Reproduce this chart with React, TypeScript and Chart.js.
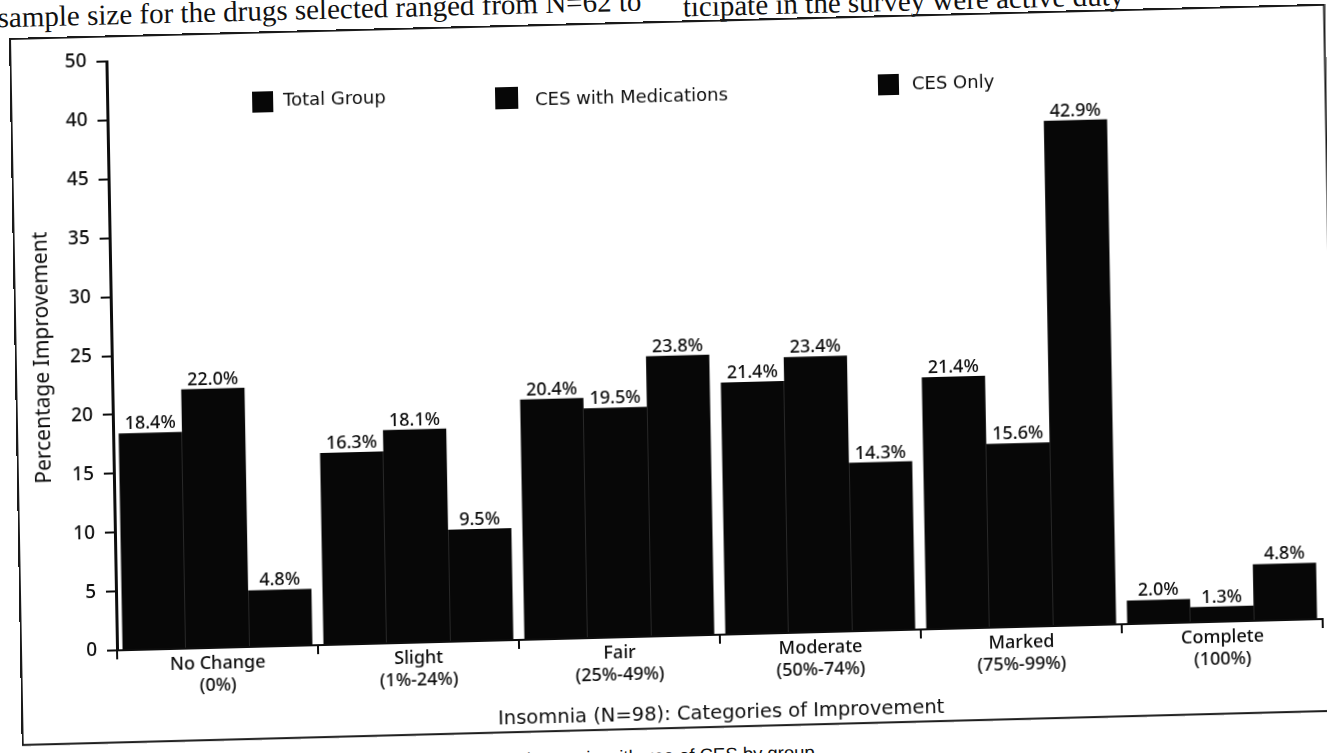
import React, { useEffect, useRef } from 'react';
import { Chart, registerables } from 'chart.js';

Chart.register(...registerables);

// Improvement categories (two-line axis labels)
const CATEGORIES: string[][] = [
  ['No Change', '(0%)'],
  ['Slight', '(1%-24%)'],
  ['Fair', '(25%-49%)'],
  ['Moderate', '(50%-74%)'],
  ['Marked', '(75%-99%)'],
  ['Complete', '(100%)'],
];

const SERIES_NAMES = ['Total Group', 'CES with Medications', 'CES Only'];

// Percentage of respondents in each improvement category
const TOTAL_GROUP = [18.4, 16.3, 20.4, 21.4, 21.4, 2.0];
const CES_WITH_MEDICATIONS = [22.0, 18.1, 19.5, 23.4, 15.6, 1.3];
const CES_ONLY = [4.8, 9.5, 23.8, 14.3, 42.9, 4.8];

// Y-axis tick labels, bottom to top, as printed on the figure
const Y_TICK_LABELS = ['0', '5', '10', '15', '20', '25', '30', '35', '45', '40', '50'];

const X_TITLE = 'Insomnia (N=98): Categories of Improvement';
const Y_TITLE = 'Percentage Improvement';

const BAR_COLOR = '#070707';
const INK = '#0d0d0d';

// Legend drawn at fixed spots inside the plot frame
const placedLegend = {
  id: 'placedLegend',
  afterDraw(chart: any, _args: any, opts: any) {
    const { ctx } = chart;
    ctx.save();
    ctx.font = opts.font;
    ctx.textAlign = 'left';
    ctx.textBaseline = 'middle';
    chart.data.datasets.forEach((ds: any, i: number) => {
      const it = opts.items[i];
      if (!it) return;
      ctx.fillStyle = ds.backgroundColor;
      ctx.fillRect(it.x, it.y, it.w, it.h);
      ctx.fillStyle = opts.color;
      ctx.fillText(ds.label, it.textX, it.textY);
    });
    ctx.restore();
  },
};

// Percentage printed above every bar
const valueLabels = {
  id: 'valueLabels',
  afterDatasetsDraw(chart: any, _args: any, opts: any) {
    const { ctx } = chart;
    ctx.save();
    ctx.font = opts.font;
    ctx.fillStyle = opts.color;
    ctx.textAlign = 'center';
    ctx.textBaseline = 'alphabetic';
    chart.data.datasets.forEach((ds: any, di: number) => {
      const meta = chart.getDatasetMeta(di);
      meta.data.forEach((bar: any, i: number) => {
        const v = ds.data[i] as number;
        ctx.fillText(v.toFixed(1) + '%', bar.x, bar.y - 4);
      });
    });
    ctx.restore();
  },
};

const FRAME_W = 1316;
const FRAME_H = 708;

function ImprovementChart() {
  const ref = useRef<HTMLCanvasElement | null>(null);

  useEffect(() => {
    if (!ref.current) return;
    const chart = new Chart(ref.current, {
      type: 'bar',
      data: {
        labels: CATEGORIES,
        datasets: [
          { label: SERIES_NAMES[0], data: TOTAL_GROUP, backgroundColor: BAR_COLOR },
          { label: SERIES_NAMES[1], data: CES_WITH_MEDICATIONS, backgroundColor: BAR_COLOR },
          { label: SERIES_NAMES[2], data: CES_ONLY, backgroundColor: BAR_COLOR },
        ],
      },
      plugins: [placedLegend, valueLabels],
      options: {
        animation: false,
        responsive: false,
        maintainAspectRatio: false,
        datasets: {
          bar: { categoryPercentage: 0.945, barPercentage: 1.0 },
        },
        layout: { padding: { top: 26, right: 13, bottom: 0, left: 0 } },
        plugins: {
          legend: { display: false },
          tooltip: { enabled: false },
          placedLegend: {
            font: '18px "DejaVu Sans"',
            color: INK,
            items: [
              { x: 242, y: 60, w: 21, h: 21, textX: 273, textY: 70 },
              { x: 485, y: 62, w: 23, h: 22, textX: 525, textY: 76 },
              { x: 868, y: 59, w: 21, h: 21, textX: 902, textY: 70 },
            ],
          },
          valueLabels: { font: '500 18px "Noto Sans"', color: INK },
        } as any,
        scales: {
          x: {
            grid: {
              display: true,
              drawOnChartArea: false,
              drawTicks: true,
              tickLength: 9,
              color: INK,
              lineWidth: 2,
              offset: true,
            },
            border: { display: true, color: INK, width: 2 },
            ticks: {
              color: INK,
              font: { family: 'Noto Sans', size: 18, weight: '500', lineHeight: 1.2 },
              padding: -4,
              maxRotation: 0,
              autoSkip: false,
            },
            title: {
              display: true,
              text: X_TITLE,
              color: INK,
              font: { family: 'DejaVu Sans', size: 19.5, lineHeight: 1.2 },
              padding: { top: 0, bottom: 2 },
            },
            afterFit: (s: any) => {
              s.height = 93;
            },
          },
          y: {
            min: 0,
            max: 50,
            grid: {
              display: true,
              drawOnChartArea: false,
              drawTicks: true,
              tickLength: 10,
              color: INK,
              lineWidth: 2,
            },
            border: { display: true, color: INK, width: 3 },
            ticks: {
              stepSize: 5,
              padding: 10,
              color: INK,
              font: { family: 'Noto Sans', size: 19, weight: '500' },
              callback: (_v: any, i: number) => Y_TICK_LABELS[i],
            },
            title: {
              display: true,
              text: Y_TITLE,
              color: INK,
              font: { family: 'Noto Sans', size: 21, lineHeight: 1.2 },
              padding: { top: 15, bottom: 0 },
            },
            afterFit: (s: any) => {
              s.width = 97;
            },
          },
        },
      } as any,
    });
    return () => chart.destroy();
  }, []);

  return (
    <canvas
      ref={ref}
      width={FRAME_W}
      height={FRAME_H}
      style={{ position: 'absolute', left: 0, top: 0, display: 'block' }}
    />
  );
}

export default function App() {
  const serif = '"Liberation Serif", "Times New Roman", serif';
  return (
    <div
      style={{
        position: 'fixed',
        left: 0,
        top: 0,
        width: 1327,
        height: 753,
        overflow: 'hidden',
        background: '#ffffff',
      }}
    >
      <div
        style={{
          position: 'absolute',
          left: 9,
          top: 38,
          width: FRAME_W,
          height: FRAME_H,
          transformOrigin: '0 0',
          transform: 'matrix(1, -0.026, 0.018, 1, 0, 0)',
        }}
      >
        {/* running body text above the figure */}
        <div
          style={{
            position: 'absolute',
            left: -11,
            top: -35,
            font: `29px/29px ${serif}`,
            color: '#111',
            whiteSpace: 'nowrap',
          }}
        >
          sample size for the drugs selected ranged from N=62 to
        </div>
        <div
          style={{
            position: 'absolute',
            left: 674,
            top: -28,
            font: `29px/29px ${serif}`,
            color: '#111',
            whiteSpace: 'nowrap',
          }}
        >
          ticipate in the survey were active duty
        </div>

        <ImprovementChart />

        {/* figure frame */}
        <div
          style={{
            position: 'absolute',
            left: 0,
            top: 0,
            width: FRAME_W,
            height: FRAME_H,
            boxSizing: 'border-box',
            border: '2px solid #1a1a1a',
            pointerEvents: 'none',
          }}
        />

        {/* figure caption below the frame */}
        <div
          style={{
            position: 'absolute',
            left: 372,
            top: 726,
            font: '18.5px/18.5px "Liberation Sans", Arial, sans-serif',
            color: '#111',
            whiteSpace: 'nowrap',
          }}
        >
          Improvement in insomnia with use of CES by group
        </div>
      </div>
    </div>
  );
}
